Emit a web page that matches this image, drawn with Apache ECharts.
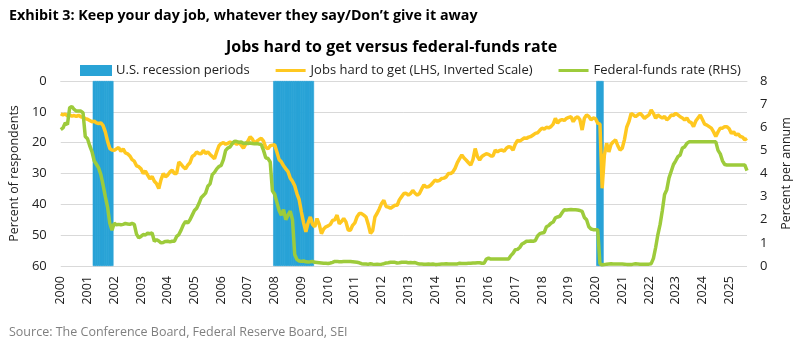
<!DOCTYPE html>
<html>
<head>
<meta charset="utf-8">
<script src="https://cdn.jsdelivr.net/npm/echarts@6/dist/echarts.min.js"></script>
<style>
html,body{margin:0;padding:0;background:#fff;}
#c{width:801px;height:345px;}
</style>
</head>
<body>
<div id="c"></div>
<script>
// Monthly categories Jan 2000 - Sep 2025
const startYear = 2000;
const nMonths = 309;
const months = [];
for (let i = 0; i < nMonths; i++) {
  const y = startYear + Math.floor(i / 12);
  const m = (i % 12) + 1;
  months.push(y + '-' + (m < 10 ? '0' + m : m));
}

// Jobs hard to get (% of respondents), monthly
const jobsHardToGet = [
  // 2000
  10.6, 11.0, 10.7, 11.3, 11.0, 11.4, 11.2, 11.5, 11.1, 11.6, 11.8, 12.2,
  // 2001
  12.4, 12.8, 13.2, 13.0, 13.6, 13.8, 13.6, 14.5, 16.5, 19.5, 21.9, 22.4,
  // 2002
  22.5, 22.0, 21.6, 22.8, 22.0, 23.3, 23.6, 24.3, 25.5, 26.0, 27.5, 27.8,
  // 2003
  28.5, 30.0, 29.2, 30.5, 31.7, 31.0, 32.5, 33.3, 34.9, 32.0, 30.0, 31.1,
  // 2004
  30.5, 29.5, 28.9, 30.0, 30.0, 26.3, 27.0, 27.9, 28.5, 27.3, 26.5, 24.5,
  // 2005
  24.0, 23.0, 23.5, 23.6, 22.5, 23.5, 23.0, 23.8, 24.5, 25.2, 23.0, 21.0,
  // 2006
  20.3, 20.0, 20.5, 20.2, 19.8, 20.2, 20.0, 20.5, 20.0, 20.8, 21.8, 20.5,
  // 2007
  19.5, 18.1, 18.8, 20.3, 19.5, 19.0, 18.6, 19.5, 21.5, 22.0, 21.0, 20.8,
  // 2008
  20.7, 23.0, 25.5, 26.2, 27.5, 28.5, 29.4, 31.5, 32.5, 34.0, 36.5, 38.5,
  // 2009
  42.5, 46.0, 48.9, 46.0, 44.1, 46.5, 47.3, 44.6, 46.5, 49.5, 48.0, 47.3,
  // 2010
  47.0, 46.5, 45.2, 45.0, 43.5, 46.3, 45.6, 44.6, 45.7, 48.3, 48.4, 46.8,
  // 2011
  46.0, 44.0, 43.0, 43.0, 43.5, 44.1, 46.5, 49.4, 48.5, 44.1, 42.9, 41.4,
  // 2012
  39.7, 38.7, 40.7, 40.9, 41.3, 40.8, 40.3, 40.3, 38.5, 37.5, 36.5, 36.4,
  // 2013
  37.0, 36.5, 35.5, 36.4, 37.0, 36.5, 35.0, 33.7, 34.4, 34.3, 33.8, 33.0,
  // 2014
  32.1, 32.5, 32.2, 31.6, 31.5, 31.1, 30.0, 30.0, 29.5, 28.3, 26.5, 25.2,
  // 2015
  24.0, 25.0, 25.7, 26.5, 27.3, 25.5, 21.9, 24.5, 25.6, 24.5, 24.0, 23.6,
  // 2016
  23.8, 24.3, 24.3, 22.4, 23.0, 22.5, 22.4, 22.8, 21.8, 21.3, 21.5, 22.4,
  // 2017
  20.5, 19.3, 19.5, 19.0, 18.5, 18.6, 18.2, 18.0, 17.5, 17.0, 16.8, 16.0,
  // 2018
  15.3, 15.6, 15.0, 15.2, 14.8, 14.0, 12.1, 13.7, 12.8, 12.5, 12.8, 12.1,
  // 2019
  11.8, 11.6, 13.2, 12.0, 11.6, 12.5, 15.9, 12.1, 11.0, 11.5, 12.6, 12.0,
  // 2020
  12.2, 13.7, 14.0, 34.8, 24.0, 20.2, 23.0, 20.5, 19.7, 19.1, 21.0, 22.4,
  // 2021
  21.8, 19.0, 15.0, 13.2, 10.5, 11.0, 11.6, 11.0, 10.5, 11.2, 12.1, 11.5,
  // 2022
  11.0, 9.4, 10.5, 12.1, 11.0, 11.6, 12.0, 11.5, 12.6, 12.0, 11.0, 11.2,
  // 2023
  10.5, 11.0, 11.6, 12.0, 12.6, 12.0, 13.2, 13.5, 14.8, 13.0, 12.0, 11.0,
  // 2024
  12.5, 14.0, 14.3, 14.8, 15.3, 16.5, 18.0, 16.5, 15.3, 15.3, 14.8, 14.8,
  // 2025
  15.5, 17.0, 16.5, 17.5, 17.2, 18.0, 18.2, 19.1, 18.6
];

// Federal-funds rate (% per annum), monthly
const fedFundsRate = [
  // 2000
  5.90, 5.97, 6.19, 6.12, 6.84, 6.90, 6.77, 6.70, 6.70, 6.70, 6.62, 5.60,
  // 2001
  5.50, 5.20, 4.95, 4.55, 4.40, 4.24, 3.95, 3.50, 3.00, 2.55, 1.85, 1.55,
  // 2002
  1.85, 1.78, 1.80, 1.78, 1.80, 1.84, 1.82, 1.80, 1.84, 1.80, 1.38, 1.22,
  // 2003
  1.28, 1.36, 1.34, 1.42, 1.40, 1.43, 1.07, 1.14, 1.08, 1.00, 1.02, 1.06,
  // 2004
  1.07, 1.04, 1.07, 1.07, 1.28, 1.36, 1.55, 1.78, 1.93, 1.86, 2.00, 2.20,
  // 2005
  2.40, 2.50, 2.70, 2.95, 3.05, 3.15, 3.45, 3.55, 3.95, 4.05, 4.20, 4.30,
  // 2006
  4.35, 4.60, 5.00, 5.10, 5.15, 5.30, 5.40, 5.38, 5.35, 5.36, 5.30, 5.32,
  // 2007
  5.30, 5.32, 5.30, 5.28, 5.30, 5.27, 5.25, 5.00, 4.68, 4.65, 4.50, 3.25,
  // 2008
  3.10, 2.75, 2.40, 2.20, 2.44, 2.00, 2.20, 2.37, 2.00, 0.50, 0.28, 0.22,
  // 2009
  0.20, 0.22, 0.18, 0.17, 0.18, 0.20, 0.16, 0.15, 0.14, 0.13, 0.12, 0.12,
  // 2010
  0.11, 0.13, 0.16, 0.20, 0.20, 0.18, 0.18, 0.19, 0.19, 0.19, 0.19, 0.18,
  // 2011
  0.17, 0.16, 0.14, 0.10, 0.09, 0.09, 0.07, 0.10, 0.08, 0.07, 0.08, 0.07,
  // 2012
  0.08, 0.10, 0.13, 0.14, 0.16, 0.16, 0.16, 0.13, 0.14, 0.16, 0.16, 0.16,
  // 2013
  0.14, 0.15, 0.14, 0.15, 0.11, 0.09, 0.09, 0.08, 0.08, 0.09, 0.08, 0.09,
  // 2014
  0.07, 0.07, 0.08, 0.09, 0.09, 0.10, 0.09, 0.09, 0.09, 0.09, 0.09, 0.12,
  // 2015
  0.11, 0.11, 0.11, 0.12, 0.12, 0.13, 0.13, 0.14, 0.14, 0.12, 0.12, 0.30,
  // 2016
  0.34, 0.30, 0.30, 0.30, 0.30, 0.30, 0.30, 0.30, 0.30, 0.30, 0.45, 0.55,
  // 2017
  0.70, 0.72, 0.80, 0.95, 1.00, 1.07, 1.07, 1.08, 1.07, 1.10, 1.30, 1.40,
  // 2018
  1.43, 1.45, 1.70, 1.75, 1.85, 1.90, 2.08, 2.12, 2.15, 2.30, 2.43, 2.42,
  // 2019
  2.43, 2.44, 2.43, 2.43, 2.42, 2.40, 2.36, 2.10, 2.00, 1.70, 1.60, 1.57,
  // 2020
  1.57, 1.57, 0.10, 0.05, 0.06, 0.08, 0.09, 0.10, 0.09, 0.09, 0.09, 0.09,
  // 2021
  0.09, 0.08, 0.07, 0.07, 0.06, 0.08, 0.10, 0.09, 0.08, 0.08, 0.08, 0.08,
  // 2022
  0.08, 0.10, 0.33, 0.80, 1.36, 1.80, 2.40, 3.09, 3.30, 3.81, 4.10, 4.39,
  // 2023
  4.55, 4.73, 4.80, 5.10, 5.15, 5.30, 5.37, 5.37, 5.37, 5.37, 5.37, 5.37,
  // 2024
  5.37, 5.37, 5.37, 5.37, 5.37, 5.37, 5.37, 5.00, 4.85, 4.55, 4.39, 4.37,
  // 2025
  4.37, 4.37, 4.37, 4.37, 4.37, 4.37, 4.37, 4.37, 4.12
];

// Recession periods (month ranges, inclusive)
const recessions = [
  ['2001-04', '2001-12'],
  ['2008-01', '2009-06'],
  ['2020-02', '2020-04']
];

const leftTicks = { min: 0, max: 60, interval: 10 };
const rightTicks = { min: 0, max: 8, interval: 1 };

const recessionData = months.map(function (m) {
  for (const r of recessions) {
    if (m >= r[0] && m <= r[1]) return leftTicks.max;
  }
  return '-';
});

const FONT = "'Open Sans', 'Noto Sans', sans-serif";
const BLUE = '#29A3D6';
const YELLOW = '#FFC820';
const GREEN = '#9DCB3B';

const chart = echarts.init(document.getElementById('c'), null, { renderer: 'canvas' });
chart.setOption({
  animation: false,
  backgroundColor: '#fff',
  textStyle: { fontFamily: FONT },
  title: [
    {
      text: 'Exhibit 3: Keep your day job, whatever they say/Don\u2019t give it away',
      left: 4, top: 4,
      textStyle: { fontFamily: FONT, fontSize: 14.3, fontWeight: 'bold', color: '#000' }
    },
    {
      text: 'Jobs hard to get versus federal-funds rate',
      left: 221, top: 34,
      textStyle: { fontFamily: FONT, fontSize: 16, fontWeight: 'bold', color: '#000' }
    },
    {
      text: 'Source: The Conference Board, Federal Reserve Board, SEI',
      left: 4, top: 321,
      textStyle: { fontFamily: FONT, fontSize: 12.5, fontWeight: 'normal', color: '#7f7f7f' }
    }
  ],
  legend: {
    left: 75, top: 59,
    itemWidth: 30, itemHeight: 9, itemGap: 26,
    textStyle: { fontFamily: FONT, fontSize: 13, color: '#222' },
    data: [
      { name: 'U.S. recession periods', icon: 'rect' },
      { name: 'Jobs hard to get (LHS, Inverted Scale)', icon: 'path://M0 0H30V3H0Z' },
      { name: 'Federal-funds rate (RHS)', icon: 'path://M0 0H30V3H0Z' }
    ]
  },
  grid: { left: 60, right: 48, top: 81, bottom: 79 },
  xAxis: {
    type: 'category',
    data: months,
    boundaryGap: false,
    axisLine: { show: true, lineStyle: { color: '#d9d9d9' } },
    axisTick: { show: false },
    splitLine: { show: false },
    axisLabel: {
      rotate: 90,
      margin: 10,
      fontSize: 12.5,
      color: '#222',
      fontFamily: FONT,
      interval: function (idx) { return idx % 12 === 0; },
      formatter: function (v) { return v.slice(0, 4); }
    }
  },
  yAxis: [
    {
      type: 'value',
      inverse: true,
      min: leftTicks.min, max: leftTicks.max, interval: leftTicks.interval,
      name: 'Percent of respondents',
      nameLocation: 'middle',
      nameGap: 29,
      nameTextStyle: { fontFamily: FONT, fontSize: 12.5, color: '#222' },
      axisLine: { show: false },
      axisTick: { show: false },
      axisLabel: { margin: 14, fontSize: 13, color: '#222', fontFamily: FONT },
      splitLine: { show: true, lineStyle: { color: '#d9d9d9', width: 1 } }
    },
    {
      type: 'value',
      min: rightTicks.min, max: rightTicks.max, interval: rightTicks.interval,
      name: 'Percent per annum',
      nameLocation: 'middle',
      nameGap: 33,
      nameTextStyle: { fontFamily: FONT, fontSize: 12.5, color: '#222' },
      axisLine: { show: false },
      axisTick: { show: false },
      axisLabel: { margin: 13, fontSize: 13, color: '#222', fontFamily: FONT },
      splitLine: { show: false }
    }
  ],
  series: [
    {
      name: 'U.S. recession periods',
      type: 'bar',
      yAxisIndex: 0,
      data: recessionData,
      barWidth: 3,
      itemStyle: { color: BLUE, borderColor: BLUE, borderWidth: 0.6 },
      z: 1
    },
    {
      name: 'Jobs hard to get (LHS, Inverted Scale)',
      type: 'line',
      yAxisIndex: 0,
      data: jobsHardToGet,
      symbol: 'none',
      lineStyle: { color: YELLOW, width: 3.5 },
      itemStyle: { color: YELLOW },
      z: 3
    },
    {
      name: 'Federal-funds rate (RHS)',
      type: 'line',
      yAxisIndex: 1,
      data: fedFundsRate,
      symbol: 'none',
      lineStyle: { color: GREEN, width: 3.5 },
      itemStyle: { color: GREEN },
      z: 4
    }
  ]
});
</script>
</body>
</html>
